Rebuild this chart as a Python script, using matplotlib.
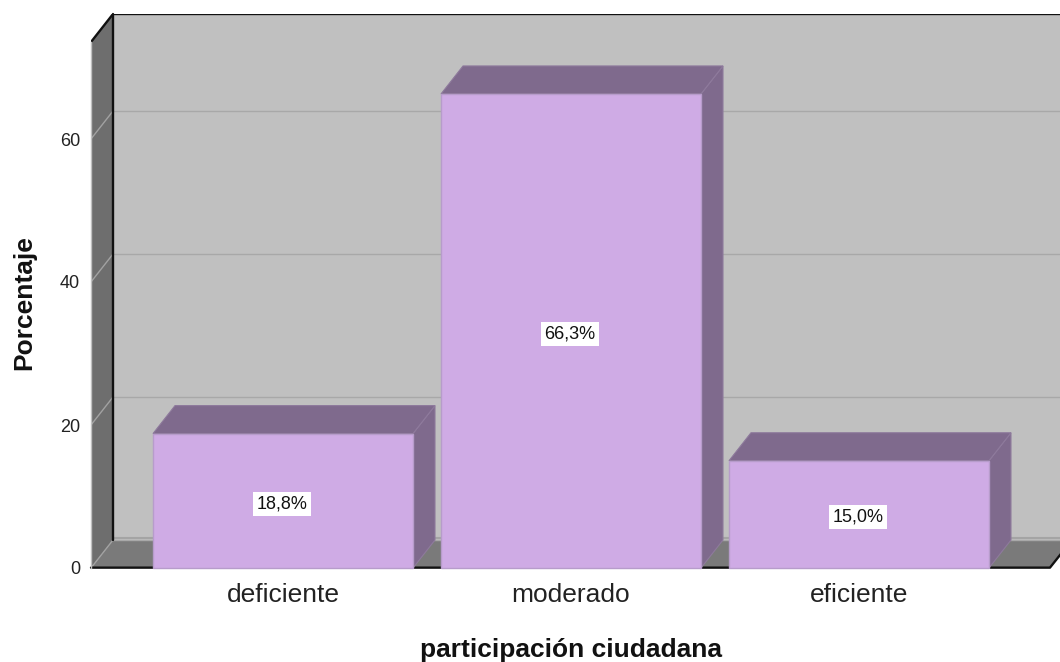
import matplotlib
matplotlib.use('Agg')
from matplotlib import pyplot as plt
from matplotlib.patches import Polygon

categories = ['deficiente', 'moderado', 'eficiente']
percent = [18.8, 66.3, 15.0]
percent_labels = ['18,8%', '66,3%', '15,0%']
y_ticks = [0, 20, 40, 60]

plt.rcParams['font.family'] = ['Liberation Sans', 'DejaVu Sans']

W, H = 1060, 662
fig = plt.figure(figsize=(W / 100, H / 100), dpi=100, facecolor='white')
# axes: front plane of the fake 3d box, in pixels of the target
ax = fig.add_axes([91 / W, (H - 568) / H, (W - 91) / W, (568 - 14) / H])
ax.set_xlim(-0.6667, 2.698)
ax.set_ylim(0, (568 - 14) / 7.15)
for s in ax.spines.values():
    s.set_visible(False)

dx = 22 / 288
dy = 28 / 7.15
ytop = (568 - 42) / 7.15
x0 = -0.6667
x1 = x0 + 959 / 288
xr = 2.698 + 1

def poly(pts, fc, ec='none', lw=0.0, z=1):
    ax.add_patch(Polygon(pts, closed=True, facecolor=fc, edgecolor=ec, linewidth=lw, zorder=z, clip_on=True))

# walls -----------------------------------------------------------------
poly([(x0 + dx, dy), (xr, dy), (xr, ytop + dy), (x0 + dx, ytop + dy)], '#c0c0c0', z=1)
poly([(x0, 0), (x0 + dx, dy), (x0 + dx, ytop + dy), (x0, ytop)], '#6e6e6e', z=1)
poly([(x0, 0), (x1, 0), (x1 + dx, dy), (x0 + dx, dy)], '#7a7a7a', z=1)
ax.plot([x0 + dx, xr], [dy + 0.3, dy + 0.3], color='#a4a4a4', lw=1.5, zorder=1.5)

# gridlines, also running over the side wall
for t in y_ticks:
    ax.plot([x0 + dx, xr], [t + dy, t + dy], color='#a8a8a8', lw=1.0, zorder=1.5)
    ax.plot([x0, x0 + dx], [t, t + dy], color='#a2a2a2', lw=1.0, zorder=1.5)

# black frame lines
frame = dict(color='#111111', lw=1.7, zorder=2, solid_capstyle='round')
ax.plot([x0 + dx, x0 + dx], [dy, ytop + dy], clip_on=False, **frame)
ax.plot([x0, x0 + dx, xr], [ytop, ytop + dy, ytop + dy], **frame)
ax.plot([x0, x1, x1 + dx], [0.05, 0.05, dy], clip_on=False, **frame)
ax.plot([x0, x0], [0, ytop], color='#c0c0c0', lw=1.0, zorder=2, clip_on=False)

# bars ------------------------------------------------------------------
xpos = range(len(categories))
bw = 260 / 288
ax.bar(xpos, percent, width=bw, color='#cfabe5', edgecolor='#b79ccb', linewidth=1.0, zorder=4, clip_on=False)
for i, v in zip(xpos, percent):
    l, r = i - bw / 2, i + bw / 2
    poly([(r, 0), (r + dx, dy), (r + dx, v + dy), (r, v)], '#7f6a8d', ec='#8e7a9c', lw=0.8, z=3)
    poly([(l, v), (r, v), (r + dx, v + dy), (l + dx, v + dy)], '#7f6a8d', ec='#8e7a9c', lw=0.8, z=3)

for i, v, lab in zip(xpos, percent, percent_labels):
    ax.text(i - 0.003, v / 2 - 0.4, lab, ha='center', va='center', fontsize=13, color='#111111', zorder=5,
            bbox=dict(facecolor='white', edgecolor='none', pad=2.5))

# axes text -------------------------------------------------------------
ax.set_yticks(y_ticks)
ax.set_xticks(list(xpos))
ax.set_xticklabels(categories, fontsize=19, color='#222222')
ax.tick_params(axis='x', length=0, pad=11)
ax.tick_params(axis='y', length=0, pad=8, labelsize=13, labelcolor='#222222')
fig.text(571 / W, 1 - 650 / H, 'participación ciudadana', ha='center', va='center', fontsize=19, fontweight='bold', color='#111111')
fig.text(24 / W, 1 - 303 / H, 'Porcentaje', ha='center', va='center', rotation=90, fontsize=19, fontweight='bold', color='#111111')

fig.savefig('out.png', dpi=100)
